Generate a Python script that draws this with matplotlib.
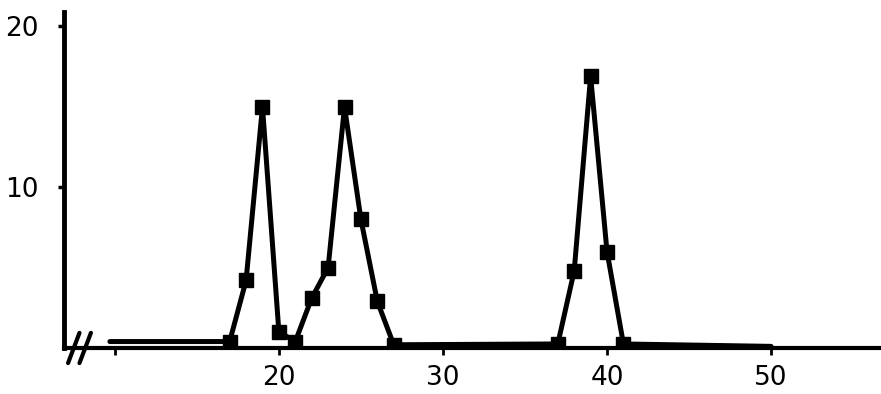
import matplotlib.pyplot as plt

# valores
x_vals = [9.7, 17, 18, 19, 20, 21, 22, 23, 24, 25, 26, 27, 37, 38, 39, 40, 41, 50]
y_vals = [0.4, 0.4, 4.2, 15, 1, 0.4, 3.1, 5, 15, 8, 2.9, 0.2, 0.25, 4.8, 16.9, 6, 0.25, 0.1]
marcados = [1, 2, 3, 4, 5, 6, 7, 8, 9, 10, 11, 12, 13, 14, 15, 16]

x_ticks = [10, 20, 30, 40, 50]
x_tick_labels = ['', '20', '30', '40', '50']
y_ticks = [10, 20]
y_tick_labels = ['10', '20']

fig = plt.figure(figsize=(8.81, 3.94), dpi=100)
ax = fig.add_axes([0.0726, 0.1168, 0.9274, 0.8527])

ax.plot(x_vals, y_vals, color='black', linewidth=3.6, marker='s', markersize=10.5,
        markevery=marcados, solid_joinstyle='round', solid_capstyle='round')

ax.set_xlim(6.9, 56.7)
ax.set_ylim(0, 20.9)

ax.spines['top'].set_visible(False)
ax.spines['right'].set_visible(False)
ax.spines['left'].set_linewidth(3.5)
ax.spines['bottom'].set_linewidth(3.0)

ax.set_xticks(x_ticks)
ax.set_xticklabels(x_tick_labels, fontsize=19)
ax.set_yticks(y_ticks)
ax.set_yticklabels(y_tick_labels, fontsize=19)
ax.tick_params(axis='x', length=5, width=2, pad=7)
ax.tick_params(axis='y', length=4, width=2.5, pad=14)

# marcas de quebra do eixo
for dx in (0.012, 0.026):
    ax.plot([dx - 0.007, dx + 0.007], [-0.045, 0.045], transform=ax.transAxes,
            color='black', linewidth=3, clip_on=False, solid_capstyle='round')

fig.savefig('out.png', dpi=100)
